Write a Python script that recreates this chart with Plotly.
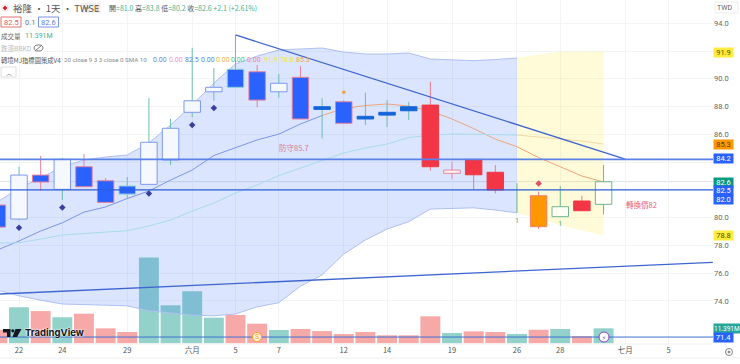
import plotly.graph_objects as go

W, H = 740, 364
PW, PH = 713, 344

x_index = list(range(-1, 28))
opens = [80.91, 79.90, 83.07, 82.04, 83.67, 82.66, 82.28, 82.40, 84.15, 87.59, 89.07, 90.69, 90.51, 89.07, 90.11,
         87.99, 88.35, 87.30, 87.59, 87.99, 88.11, 83.19, 84.20, 83.27, 80.35, 81.58, 80.07, 81.20, 80.96]
highs = [80.91, 83.67, 84.44, 84.30, 84.58, 82.85, 82.93, 88.62, 87.11, 92.24, 90.78, 93.16, 91.00, 90.35, 90.92,
         88.60, 88.47, 89.00, 88.47, 88.35, 89.79, 84.03, 84.20, 83.79, 82.49, 81.87, 82.28, 81.58, 83.79]
lows = [79.32, 79.83, 81.92, 81.27, 82.21, 81.10, 81.34, 82.35, 83.79, 87.25, 88.42, 89.39, 87.95, 88.64, 87.11,
        85.71, 86.75, 86.67, 86.53, 87.03, 83.38, 82.78, 82.04, 81.75, 80.35, 79.18, 80.07, 80.50, 80.24]
closes = [79.32, 83.07, 82.57, 84.20, 82.23, 81.10, 81.70, 85.43, 86.44, 88.42, 89.39, 89.39, 88.47, 89.68, 87.11,
          87.80, 86.80, 87.11, 87.39, 87.70, 83.67, 83.43, 83.09, 81.99, 80.35, 79.35, 80.79, 80.50, 82.59]
candle_style = ["bluepink", "hollow", "bluepink", "hollow", "bluepink", "bluepink", "bluegreen", "hollow", "hollow",
                "hollow", "hollow", "bluegreen", "bluepink", "hollow", "bluepink", "flat", "bluepink", "flat", "flat",
                "flat", "red", "pinkhollow", "red", "red", "wick", "orange", "greenhollow", "red", "greenhollow"]
volumes = [10.1, 27.4, 24.5, 19.8, 22.5, 11.4, 8.6, 65.3, 28.9, 39.5, 19.5, 21.5, 14.9, 10.1, 10.9, 9.3, 7.1, 8.6, 6.1,
           6.1, 20.5, 7.8, 9.1, 8.6, 7.1, 10.3, 10.9, 5.5, 11.391]
volume_up = [0, 1, 0, 1, 0, 0, 0, 1, 1, 1, 1, 0, 0, 1, 0, 0, 0, 0, 0, 0, 0, 1, 0, 0, 1, 0, 1, 0, 1]
band_upper = [81.13, 82.13, 82.85, 83.67, 84.15, 84.37, 84.51, 85.38, 86.67, 88.11, 89.70, 91.07, 91.64, 92.08, 92.15,
              92.22, 91.93, 91.79, 91.79, 91.86, 91.43, 91.36, 91.31, 91.39, 91.50, 91.72, 91.93, 91.95, 91.93]
band_lower = [74.78, 74.37, 74.06, 73.78, 73.74, 73.70, 73.65, 73.29, 73.13, 72.98, 72.93, 73.06, 73.58, 73.87, 75.07,
              75.87, 77.38, 78.39, 79.18, 79.71, 80.62, 80.69, 80.71, 80.55, 80.35, 79.97, 79.47, 79.11, 78.75]
mid_line = [77.67, 78.32, 79.04, 79.63, 80.40, 80.77, 81.38, 81.92, 82.71, 83.43, 84.48, 85.02, 85.60, 86.02, 86.75,
            87.36, 87.86, 88.08, 88.19, 88.04, 87.68, 87.11, 86.42, 85.66, 85.11, 84.33, 83.65, 83.00, 82.57]
slow_line = [78.17, 78.19, 78.46, 78.75, 78.86, 78.96, 79.06, 79.40, 79.83, 80.48, 81.05, 81.77, 82.35, 83.03, 83.57,
             84.15, 84.66, 85.02, 85.30, 85.77, 85.95, 86.02, 86.02, 85.99, 85.95, 85.81, 85.66, 85.52, 85.30]
tick_positions = [0, 2, 5, 8, 10, 12, 15, 17, 20, 23, 25, 28, 30]
tick_labels = ["22", "24", "29", "六月", "5", "7", "12", "14", "19", "26", "28", "七月", "5"]
price_ticks = [74, 76, 78, 80, 82, 84, 86, 88, 90, 92, 94]
price_tick_labels = ["74.0", "76.0", "78.0", "80.0", "", "", "86.0", "88.0", "90.0", "", "94.0"]
level_lines = [84.2, 82.0, 71.4]
last_price = 82.6
trend_down_x, trend_down_y = [10, 28.0], [93.16, 84.22]
trend_up_x, trend_up_y = [-0.88, 32.05], [74.50, 76.78]
signal_x, signal_y = [0, 2, 6, 8, 9], [79.27, 80.74, 81.75, 86.67, 87.90]
dot_x, dot_y = [15], [89.03]
sell_x, sell_y = [24], [82.47]
one_x, one_y = [23, 25], [79.71, 79.54]

X_RANGE = [-0.878, 32.055]
Y_RANGE = [70.9, 95.68]
V_RANGE = [-0.53, 261]

STYLES = {
    "hollow": ("#6CBFA8", "#7C9AEC", "#F6F8FF"),
    "bluepink": ("#E8809A", "#E8809A", "#2962FF"),
    "bluegreen": ("#6CBFA8", "#8FD0D0", "#2962FF"),
    "flat": ("#6CBFA8", "#1565D8", "#1565D8"),
    "red": ("#EE7A8A", "#F23645", "#F23645"),
    "pinkhollow": ("#E88AA0", "#E88AA0", "#FDEEF0"),
    "orange": ("#EE8090", "#F0806A", "#FF9800"),
    "greenhollow": ("#6DB596", "#6DB596", "#FFFEF4"),
    "wick": ("#6DB596", None, None),
}

CJK = "Noto Sans CJK TC"


def px(x):
    return x / PW


def py(y):
    return 1 - y / PH


fig = go.Figure()

# volume below everything
fig.add_trace(go.Bar(x=x_index, y=volumes, width=0.92, yaxis="y",
                     marker=dict(color=["#92D2CB" if u else "#F7A9A7" for u in volume_up], line=dict(width=0))))

# bands
split = x_index.index(23) + 1
fig.add_trace(go.Scatter(x=x_index[:split], y=band_lower[:split], yaxis="y2", mode="lines",
                         line=dict(color="#AFC0F2", width=1)))
fig.add_trace(go.Scatter(x=x_index[:split], y=band_upper[:split], yaxis="y2", mode="lines", fill="tonexty",
                         fillcolor="rgba(41,98,255,0.17)", line=dict(color="#AFC0F2", width=1)))
fig.add_trace(go.Scatter(x=x_index[split - 1:], y=band_lower[split - 1:], yaxis="y2", mode="lines",
                         line=dict(color="rgba(255,235,59,0.2)", width=0.5)))
fig.add_trace(go.Scatter(x=x_index[split - 1:], y=band_upper[split - 1:], yaxis="y2", mode="lines", fill="tonexty",
                         fillcolor="rgba(255,235,59,0.2)", line=dict(color="rgba(255,235,59,0.2)", width=0.5)))

# moving lines
m = x_index.index(14) + 1
fig.add_trace(go.Scatter(x=x_index[:m], y=mid_line[:m], yaxis="y2", mode="lines", line=dict(color="#7E95E6", width=1)))
fig.add_trace(go.Scatter(x=x_index[m - 1:], y=mid_line[m - 1:], yaxis="y2", mode="lines",
                         line=dict(color="#F0A57A", width=1)))
fig.add_trace(go.Scatter(x=x_index[:split], y=slow_line[:split], yaxis="y2", mode="lines",
                         line=dict(color="#A9DCEB", width=1)))
fig.add_trace(go.Scatter(x=x_index[split - 1:], y=slow_line[split - 1:], yaxis="y2", mode="lines",
                         line=dict(color="#F3D9A8", width=1)))

# candles: wick layer, then body layer
for name, (wick, border, fill) in STYLES.items():
    idx = [i for i, s in enumerate(candle_style) if s == name]
    wx, wy = [], []
    for i in idx:
        wx += [x_index[i], x_index[i], None]
        wy += [lows[i], highs[i], None]
    fig.add_trace(go.Scatter(x=wx, y=wy, yaxis="y2", mode="lines", line=dict(color=wick, width=1), zorder=1))
    if border:
        fig.add_trace(go.Bar(x=[x_index[i] for i in idx], y=[abs(opens[i] - closes[i]) for i in idx],
                             base=[min(opens[i], closes[i]) for i in idx], yaxis="y2", width=0.76, zorder=2,
                             marker=dict(color=fill, line=dict(color=border, width=1))))

# trend lines
for tx, ty in ((trend_down_x, trend_down_y), (trend_up_x, trend_up_y)):
    fig.add_trace(go.Scatter(x=tx, y=ty, yaxis="y2", mode="lines", line=dict(color="#3F66D0", width=1.3), zorder=3))

# signals
fig.add_trace(go.Scatter(x=signal_x, y=signal_y, yaxis="y2", mode="markers", zorder=3,
                         marker=dict(symbol="diamond", size=5, color="#3A3F9E")))
fig.add_trace(go.Scatter(x=dot_x, y=dot_y, yaxis="y2", mode="markers", zorder=3,
                         marker=dict(symbol="circle", size=3.5, color="#F0A040")))
fig.add_trace(go.Scatter(x=sell_x, y=sell_y, yaxis="y2", mode="markers", zorder=3,
                         marker=dict(symbol="diamond", size=5, color="#E0506A")))
fig.add_trace(go.Scatter(x=one_x, y=one_y, yaxis="y2", mode="text", text=["1", "1"], zorder=3,
                         textfont=dict(size=7, color="#4CAF8C", family="Roboto")))

shapes = []
for val, col, w in zip(level_lines, ["#5B82E8", "#2B5FD9", "#3D6FD0"], [1.6, 1.3, 1]):
    shapes.append(dict(type="line", xref="paper", yref="y2", x0=0, x1=1, y0=val, y1=val, line=dict(color=col, width=w)))
shapes.append(dict(type="line", xref="paper", yref="y2", x0=0, x1=1, y0=last_price, y1=last_price,
                   line=dict(color="#DDE3E6", width=1), layer="below"))


def rect(x0, y0, x1, y1, line="#DDD", fill="rgba(0,0,0,0)"):
    shapes.append(dict(type="rect", xref="paper", yref="paper", x0=px(x0), x1=px(x1), y0=py(y0), y1=py(y1),
                       line=dict(color=line, width=1), fillcolor=fill))


def circle(cx, cy, r, line, fill, w=1):
    shapes.append(dict(type="circle", xref="paper", yref="paper", x0=px(cx - r), x1=px(cx + r), y0=py(cy - r),
                       y1=py(cy + r), line=dict(color=line, width=w), fillcolor=fill))


def hline_px(x0, y0, x1, y1, col, w=1):
    shapes.append(dict(type="line", xref="paper", yref="paper", x0=px(x0), x1=px(x1), y0=py(y0), y1=py(y1),
                       line=dict(color=col, width=w)))


annotations = []


def label(x, y, text, size=8, color="#555", anchor="left", family=CJK, **kw):
    annotations.append(dict(xref="paper", yref="paper", x=px(x), y=py(y), text=text, showarrow=False, xanchor=anchor,
                            yanchor="middle", font=dict(size=size, color=color, family=family), borderpad=0,
                            borderwidth=0, **kw))


def tag(y, text, bg, color="#FFFFFF", w=19, size=7.5):
    annotations.append(dict(xref="paper", yref="paper", x=px(713), y=py(y), text=text, showarrow=False, xanchor="left",
                            yanchor="middle", width=w, height=9, bgcolor=bg, align="center", borderpad=0,
                            font=dict(size=size, color=color, family="Roboto")))


tag(52, "91.9", "#FFEB3B", "#5A5200")
tag(144, "85.3", "#FF9800", "#5A3A00")
tag(159, "84.2", "#2962FF")
tag(182, "82.6", "#089981")
tag(190.5, "82.5", "#2962FF")
tag(199, "82.0", "#2962FF")
tag(235, "78.8", "#FFEB3B", "#5A5200")
tag(328.5, "11.391M", "#26A69A", w=26, size=6.5)
tag(337.5, "71.4", "#2962FF")

# header
circle(5, 8, 3.5, "#F5E4E4", "#FFFFFF")
shapes.append(dict(type="path", xref="paper", yref="paper", fillcolor="#E02030", line=dict(width=0),
                   path=f"M {px(5)} {py(5.5)} L {px(7.5)} {py(8)} L {px(5)} {py(10.5)} L {px(2.5)} {py(8)} Z"))
label(13, 7.5, "裕隆 · 1天 · TWSE", 9.5, "#555")
rect(81, 3, 101, 13, "rgba(0,0,0,0)", "#F1F1F1")
hline_px(84.5, 8, 89.5, 8, "#888", 1.2)
label(96, 8, "D", 7.5, "#F0A030", "center", "Roboto")
G = "#3FB28F"
label(109, 8, f"開<span style='color:{G}'>=81.0</span> 高<span style='color:{G}'>=83.8</span> "
              f"低<span style='color:{G}'>=80.2</span> 收<span style='color:{G}'>=82.6 +2.1 (+2.61%)</span>", 7, "#555")
rect(1, 17, 21, 27, "#E57373", "#FFFFFF")
label(11, 22, "82.5", 7.5, "#E06060", "center", "Roboto")
label(30, 22, "0.1", 7.5, "#777", "center", "Roboto")
rect(38.5, 17, 58.5, 27, "#7A94E8", "#FFFFFF")
label(48.5, 22, "82.6", 7.5, "#5B82E8", "center", "Roboto")
label(1, 36, "成交量", 6.5, "#666")
label(25, 36, "11.391M", 7, "#3FB28F", family="Roboto")
label(1, 48, "跌漲BBKD", 6.5, "#BBBBBB")
shapes.append(dict(type="circle", xref="paper", yref="paper", x0=px(34), x1=px(43), y0=py(45), y1=py(51),
                   line=dict(color="#777", width=1)))
hline_px(35, 51, 42, 45, "#777")
label(1, 60.5, "轉境MJ指標圖策成V4", 6.3, "#555")
label(64, 60, "20 close 9 3 3 close 0 SMA 10", 6.2, "#888", family="Roboto")
for xv, txt, col in [(153, "0.00", "#7B7FD8"), (169, "0.00", "#F48FC8"), (185, "82.5", "#5B82E8"),
                     (201, "0.00", "#5B82E8"), (216, "0.00", "#F5B45A"), (231, "0.00", "#66BB6A"),
                     (247, "0.00", "#EF8A8A"), (264, "91.9", "#F5E642"), (280, "78.8", "#F5E642"),
                     (296, "85.3", "#F5A742")]:
    label(xv, 60, txt, 7, col, family="Roboto")
rect(1, 67, 16, 77, "#E0E0E0", "#FFFFFF")
label(8.5, 73, "︿", 6, "#555", "center")

# chart notes
label(294, 147.5, "防守85.7", 7.5, "#E07A96", "center")
label(641, 205, "轉換價82", 7.5, "#E8607A", "center")

# right top
rect(715, 2, 738, 13, "#EDEDED", "#FFFFFF")
label(717, 7.5, "TWD", 7, "#666", family="Roboto")

# logo
label(25, 333, "<b>TradingView</b>", 9.5, "#131722", family="Inter")
annotations[-1]["font"]["shadow"] = "0 0 2px #fff, 0 0 2px #fff"
logo = (f"M {px(3)} {py(329)} L {px(10.5)} {py(329)} L {px(10.5)} {py(337)} L {px(7)} {py(337)} L {px(7)} {py(332.5)} "
        f"L {px(3)} {py(332.5)} Z "
        f"M {px(15.5)} {py(329)} L {px(21.5)} {py(329)} L {px(17)} {py(337)} L {px(12.5)} {py(337)} Z")
shapes.append(dict(type="path", xref="paper", yref="paper", path=logo, fillcolor="#131722", line=dict(width=0)))
circle(12.8, 330.8, 1.6, "#131722", "#131722", 0)

# badges
circle(257, 337, 4.5, "#F5A623", "#FFF3D6")
label(257, 337, "S", 7, "#F5A623", "center", "Roboto")
circle(604, 337, 5, "#8E3FC0", "#FFFFFF")
label(604, 337, "⚡", 6, "#8E3FC0", "center", "DejaVu Sans")

# frame details
hline_px(0, 344, 713, 344, "#F0F0F0")
shapes.append(dict(type="line", xref="paper", yref="paper", x0=0, x1=W / PW, y0=py(358), y1=py(358),
                   line=dict(color="#EFEFEF", width=1)))
circle(729, 352, 3.5, "#888", "#FFFFFF")
circle(729, 352, 1, "#888", "#888")

GRID = "#F3F4F6"
fig.update_layout(
    width=W, height=H, margin=dict(l=0, r=W - PW, t=0, b=H - PH), paper_bgcolor="#FFFFFF", plot_bgcolor="#FFFFFF",
    showlegend=False, hovermode=False, barmode="overlay", shapes=shapes, annotations=annotations,
    xaxis=dict(range=X_RANGE, tickmode="array", tickvals=tick_positions,
               ticktext=tick_labels, showgrid=True, gridcolor=GRID, gridwidth=1, zeroline=False, ticks="",
               showline=False, tickfont=dict(size=7.5, color="#555", family=CJK)),
    yaxis=dict(range=V_RANGE, domain=[0, 1], visible=False),
    yaxis2=dict(range=Y_RANGE, domain=[0, 1], overlaying="y", side="right", tickmode="array", tickvals=price_ticks,
                ticktext=price_tick_labels, showgrid=True, gridcolor=GRID, zeroline=False, showline=False,
                ticks="", tickfont=dict(size=7.5, color="#666", family="Roboto")),
)

fig.write_html("out.html", config=dict(displayModeBar=False),
               post_script="document.body.style.margin='0';document.documentElement.style.overflow='hidden';")
